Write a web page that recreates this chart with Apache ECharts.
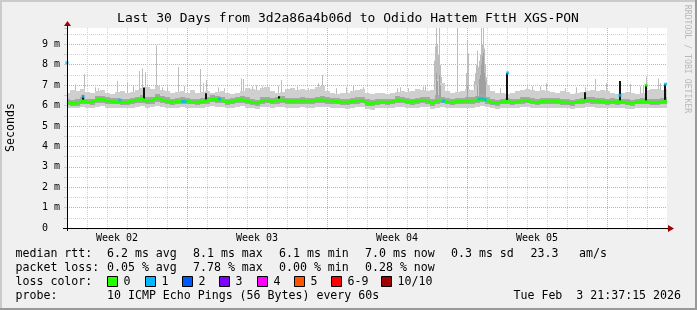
<!DOCTYPE html>
<html><head><meta charset="utf-8">
<script src="https://cdn.jsdelivr.net/npm/echarts@6/dist/echarts.min.js"></script>
<style>html,body{margin:0;padding:0;background:#f0f0f0}#c{width:697px;height:310px}</style>
</head><body><div id="c"></div>
<script>
// ---------------- data ----------------
const TITLE = 'Last 30 Days from 3d2a86a4b06d to Odido Hattem FttH XGS-PON';
const STEP_DAYS = 0.25;            // sample spacing of the arrays below (days)
const median = [
6.16,6.10,6.12,6.22,6.18,6.16,6.30,6.32,6.24,6.20,6.19,6.17,6.16,6.22,6.28,6.32,6.22,6.26,6.38,6.28,6.22,6.16,6.20,6.24,6.22,
6.18,6.16,6.20,6.24,6.32,6.28,6.26,6.16,6.20,6.27,6.30,6.22,6.16,6.12,6.24,6.26,6.20,6.26,6.28,6.22,6.20,6.22,6.24,6.22,
6.22,6.27,6.28,6.24,6.22,6.20,6.18,6.16,6.20,6.24,6.26,6.12,6.08,6.16,6.18,6.16,6.18,6.28,6.26,6.20,6.18,6.22,6.26,6.24,
6.10,6.24,6.26,6.18,6.16,6.20,6.22,6.22,6.22,6.28,6.32,6.24,6.16,6.12,6.18,6.20,6.16,6.18,6.24,6.26,6.18,6.16,6.20,6.22,
6.22,6.20,6.18,6.16,6.12,6.18,6.20,6.26,6.24,6.22,6.20,6.18,6.16,6.20,6.18,6.14,6.10,6.18,6.20,6.18,6.16,6.16,6.18,6.22];
const smokeLo = [
5.9,5.88,5.86,5.92,5.9,5.88,5.95,5.96,5.9,5.9,5.88,5.88,5.86,5.9,5.94,5.96,5.9,5.92,5.98,5.94,5.9,5.86,5.88,5.92,5.9,
5.88,5.86,5.9,5.92,5.96,5.94,5.92,5.86,5.88,5.94,5.96,5.9,5.86,5.84,5.92,5.94,5.88,5.92,5.94,5.9,5.88,5.9,5.92,5.9,
5.9,5.94,5.95,5.92,5.9,5.88,5.86,5.85,5.88,5.92,5.94,5.84,5.8,5.86,5.88,5.86,5.88,5.94,5.92,5.88,5.86,5.9,5.94,5.92,
5.82,5.9,5.94,5.88,5.86,5.88,5.9,5.9,5.9,5.94,5.96,5.92,5.86,5.84,5.88,5.9,5.86,5.88,5.92,5.94,5.88,5.86,5.88,5.9,
5.9,5.88,5.86,5.86,5.84,5.88,5.9,5.94,5.92,5.9,5.88,5.86,5.88,5.86,5.88,5.84,5.82,5.88,5.9,5.88,5.86,5.86,5.88,5.9];
const smokeHi = [
6.6,6.75,6.7,6.8,6.65,6.6,6.7,6.75,6.6,6.55,6.65,6.7,6.6,6.65,6.75,6.85,6.9,6.8,6.95,6.75,6.7,6.6,6.65,6.7,6.6,
6.75,6.6,6.65,6.7,6.6,6.65,6.7,6.6,6.55,6.6,6.7,6.85,6.8,6.75,6.85,6.9,6.7,6.6,6.65,6.8,6.85,6.75,6.8,6.75,
6.8,6.9,6.95,6.7,6.6,6.55,6.6,6.6,6.7,6.75,6.8,6.6,6.55,6.6,6.6,6.55,6.6,6.65,6.7,6.65,6.7,6.8,6.75,6.7,
6.75,7.3,7.1,6.7,6.6,6.65,6.7,6.8,6.75,7.0,7.4,7.0,6.7,6.6,6.6,6.55,6.6,6.7,6.75,6.8,6.75,6.7,6.75,6.7,
6.65,6.6,6.7,6.65,6.55,6.6,6.65,6.7,6.75,6.7,6.75,6.7,6.6,6.55,6.6,6.65,6.6,6.55,6.6,6.75,6.8,6.8,6.75,6.8];
const coreLo = [
6.04,6.0,6.0,6.08,6.06,6.04,6.12,6.14,6.1,6.08,6.06,6.05,6.04,6.08,6.12,6.14,6.08,6.1,6.16,6.12,6.08,6.04,6.06,6.1,6.08,
6.06,6.04,6.08,6.1,6.16,6.14,6.12,6.04,6.06,6.12,6.14,6.08,6.04,6.0,6.1,6.12,6.06,6.1,6.14,6.08,6.06,6.08,6.1,6.08,
6.08,6.12,6.14,6.1,6.08,6.06,6.04,6.02,6.06,6.1,6.12,6.0,5.96,6.04,6.06,6.04,6.06,6.14,6.12,6.06,6.04,6.08,6.12,6.1,
5.98,6.1,6.12,6.06,6.04,6.06,6.08,6.08,6.08,6.12,6.16,6.1,6.04,6.0,6.06,6.08,6.04,6.06,6.1,6.12,6.06,6.04,6.06,6.08,
6.08,6.06,6.04,6.04,6.0,6.06,6.08,6.12,6.1,6.08,6.06,6.04,6.06,6.04,6.06,6.02,5.98,6.06,6.08,6.06,6.04,6.04,6.06,6.08];
const coreHi = [
6.32,6.28,6.3,6.4,6.34,6.32,6.46,6.48,6.4,6.36,6.36,6.34,6.32,6.38,6.44,6.5,6.4,6.44,6.56,6.46,6.4,6.32,6.36,6.4,6.38,
6.34,6.32,6.36,6.42,6.5,6.46,6.42,6.32,6.36,6.44,6.48,6.4,6.32,6.28,6.4,6.42,6.36,6.42,6.46,6.38,6.36,6.38,6.42,6.38,
6.38,6.44,6.46,6.4,6.38,6.36,6.34,6.32,6.36,6.42,6.44,6.3,6.26,6.32,6.34,6.32,6.34,6.46,6.42,6.36,6.34,6.38,6.44,6.4,
6.3,6.5,6.44,6.36,6.32,6.36,6.38,6.4,6.4,6.48,6.56,6.42,6.32,6.28,6.34,6.36,6.32,6.34,6.4,6.44,6.36,6.32,6.36,6.38,
6.38,6.36,6.34,6.32,6.28,6.34,6.36,6.42,6.4,6.38,6.36,6.34,6.36,6.32,6.34,6.3,6.26,6.34,6.36,6.34,6.32,6.34,6.36,6.4];
// thin smoke spikes: [day, top ms]
const lightSpikes = [
[0.42,7.04],[0.89,7.53],[1.43,6.9],[1.55,6.85],[2.5,7.2],[3.0,7.14],[3.33,6.95],[3.62,7.69],[3.75,7.82],[3.92,7.63],
[4.47,8.96],[4.75,6.9],[5.0,6.9],[5.55,7.89],[5.85,6.95],
[6.67,7.79],[6.84,7.09],[6.95,7.25],[7.55,6.9],[7.85,6.85],[8.74,7.33],[8.8,7.3],[9.25,6.95],[9.45,7.0],[9.75,6.95],[9.85,6.9],
[10.59,6.96],[10.7,7.25],[11.5,6.92],[12.09,6.85],[12.55,7.09],[12.75,7.5],[13.45,6.85],[13.95,6.9],[14.34,7.0],[14.84,6.9],
[16.5,6.85],[16.65,6.9],[17.09,6.85],[17.84,6.92],[17.92,6.95],
[18.35,8.2],[18.4,8.9],[18.45,9.8],[18.5,9.0],[18.55,8.5],[18.6,9.8],[18.65,8.0],[18.7,7.4],[18.75,7.0],
[19.52,9.8],[19.95,7.6],[20.0,9.2],[20.07,8.55],
[20.35,7.2],[20.4,7.6],[20.45,8.0],[20.54,8.7],[20.55,7.9],[20.6,8.2],[20.65,8.5],[20.74,9.8],[20.75,9.0],[20.82,9.8],[20.85,8.8],[20.9,8.0],[20.95,7.4],
[21.65,6.85],[23.0,6.9],[23.25,6.95],[23.65,6.95],[23.97,7.09],[24.9,6.85],[25.45,6.9],[25.9,6.9],[26.4,7.3],[26.98,7.1],
[28.15,7.05],[28.65,6.95],[28.8,7.0],[28.95,7.42],[29.57,7.33],[29.65,7.1]];
const coreSpikes = [
[18.45,7.6],[18.5,7.2],[18.6,7.5],[18.65,7.0],[20.0,7.0],
[20.5,7.0],[20.6,7.3],[20.65,7.5],[20.7,8.0],[20.75,8.4],[20.8,8.6],[20.85,7.6],[20.9,7.2]];
// median jumps (black): [day, top ms]
const medianSpikes = [
[0.0,8.1],[0.8,6.5],[3.885,6.88],[6.95,6.6],[7.64,6.36],[10.6,6.45],[22.03,7.6],[25.9,6.65],[27.65,7.2],[28.95,7.0],[29.93,7.05]];
// loss-coloured median samples: [day, ms, loss class]
const lossDots = [
[0.0,8.1,1],[0.8,6.45,1],[2.65,6.27,1],[5.78,6.2,1],[5.9,6.2,1],[7.64,6.32,1],[18.83,6.22,1],
[20.6,6.33,1],[20.75,6.34,1],[20.9,6.3,1],[22.03,7.6,1],[27.65,6.5,1],[28.95,7.0,0],[29.93,7.05,1]];
const weekCenters = [2.5, 9.5, 16.5, 23.5];
const weekLabels = ['Week 02','Week 03','Week 04','Week 05'];
const lossColors = ['#26ff00','#00b8ff','#0059ff','#7e00ff','#ff00ff','#ff5500','#ff0000','#a00000'];
const lossLabels = ['0','1','2','3','4','5','6-9','10/10'];
const rttStats = ['6.2 ms avg','8.1 ms max','6.1 ms min','7.0 ms now','0.3 ms sd','23.3','am/s'];
const lossStats = ['0.05 % avg','7.78 % max','0.00 % min','0.28 % now'];
const probeText = '10 ICMP Echo Pings (56 Bytes) every 60s';
const dateText = 'Tue Feb  3 21:37:15 2026';

// ---------------- chart ----------------
const MONO = 'DejaVu Sans Mono';
const days = median.map((_, i) => i * STEP_DAYS);
const pair = arr => arr.map((v, i) => [days[i], v]);
const RED = '#eaa0a0', GRAY = '#d2d2d2';

function spikes(data, color, width, base, z) {
  return {
    type: 'custom', silent: true, z, data, encode: {x: 0, y: 1}, clip: true,
    renderItem(params, api) {
      const t = api.coord([api.value(0), api.value(1)]);
      const b = api.coord([api.value(0), base]);
      return {type: 'rect', shape: {x: Math.floor(t[0]) - (width > 1 ? 1 : 0), y: t[1], width, height: b[1] - t[1]},
              style: {fill: color}};
    }
  };
}
function band(lo, hi, color, z) {
  const data = lo.map((v, i) => [days[i], v, hi[i]]);
  return {
    type: 'custom', silent: true, z, data, encode: {x: 0, y: [1, 2]}, clip: true,
    renderItem(params, api) {
      const d = api.value(0);
      const l = api.coord([d - STEP_DAYS / 2, api.value(1)]);
      const h = api.coord([d + STEP_DAYS / 2, api.value(2)]);
      const x0 = Math.round(l[0]), x1 = Math.round(h[0]);
      const y0 = Math.round(h[1]), y1 = Math.round(l[1]);
      return {type: 'rect', shape: {x: x0, y: y0, width: x1 - x0, height: y1 - y0}, style: {fill: color}};
    }
  };
}

const xCol = []; for (let i = 0; i < 7; i++) xCol.push(i === 6 ? RED : GRAY);

const gfx = [];
const T = (text, x, y, extra) => gfx.push(Object.assign({type: 'text', x, y, silent: true,
  style: Object.assign({text, fontFamily: MONO, fontSize: 11.6, fill: '#000', align: 'left', verticalAlign: 'middle'}, extra || {})}));
// frame
gfx.push({type: 'rect', shape: {x: 0, y: 0, width: 697, height: 2}, style: {fill: '#cbcbcb'}});
gfx.push({type: 'rect', shape: {x: 0, y: 0, width: 2, height: 310}, style: {fill: '#cbcbcb'}});
gfx.push({type: 'rect', shape: {x: 695, y: 0, width: 2, height: 310}, style: {fill: '#999'}});
gfx.push({type: 'rect', shape: {x: 0, y: 308, width: 697, height: 2}, style: {fill: '#999'}});
// title & side texts
T(TITLE, 348, 18.5, {fontSize: 13, align: 'center'});
gfx.push({type: 'text', x: 11, y: 127.5, rotation: Math.PI / 2, silent: true,
  style: {text: 'Seconds', fontFamily: MONO, fontSize: 11.6, fill: '#000', align: 'center', verticalAlign: 'middle'}});
gfx.push({type: 'text', x: 687, y: 59, rotation: -Math.PI / 2, silent: true,
  style: {text: 'RRDTOOL / TOBI OETIKER', fontFamily: MONO, fontSize: 8.2, fill: '#b8b8b8', align: 'center', verticalAlign: 'middle'}});
// axis extensions and arrows
gfx.push({type: 'line', shape: {x1: 67.5, y1: 231, x2: 67.5, y2: 25}, style: {stroke: '#000', lineWidth: 1}, z: 50});
gfx.push({type: 'line', shape: {x1: 63, y1: 228.5, x2: 669, y2: 228.5}, style: {stroke: '#000', lineWidth: 1}, z: 50});
gfx.push({type: 'polygon', shape: {points: [[64, 26], [71, 26], [67.5, 21]]}, style: {fill: '#a00000'}, z: 51});
gfx.push({type: 'polygon', shape: {points: [[668, 225], [668, 232], [674, 228.5]]}, style: {fill: '#a00000'}, z: 51});
// legend rows
const rttX = [107, 193, 279, 365, 451, 530.5, 579];
T('median rtt:', 15.5, 254.3); rttStats.forEach((s, i) => T(s, rttX[i], 254.3));
T('packet loss:', 15.5, 268.3); lossStats.forEach((s, i) => T(s, rttX[i], 268.3));
T('loss color:', 15.5, 282);
const swX = [108, 146, 183, 220, 258, 295, 332, 382];
lossColors.forEach((c, i) => {
  gfx.push({type: 'rect', shape: {x: swX[i] - 0.5, y: 276.5, width: 10, height: 10}, style: {fill: c, stroke: '#000', lineWidth: 1}});
  T(lossLabels[i], swX[i] + 15.5, 282);
});
T('probe:', 15.5, 296); T(probeText, 107, 296); T(dateText, 681, 296, {align: 'right'});

const chart = echarts.init(document.getElementById('c'), null, {renderer: 'canvas'});
chart.setOption({
  animation: false,
  backgroundColor: '#f0f0f0',
  grid: {left: 67, right: 30, top: 28, bottom: 82, show: true, backgroundColor: '#fff', borderWidth: 0},
  xAxis: [
    {type: 'value', min: 0, max: 30, interval: 1,
     axisLine: {show: false}, axisTick: {show: true, length: 2, lineStyle: {color: '#bbb'}},
     axisLabel: {show: false},
     splitLine: {show: true, showMaxLine: false, lineStyle: {color: xCol, type: [1, 1], width: 1}}},
    {type: 'value', min: 0, max: 30, interval: 0.5, position: 'bottom',
     axisLine: {show: false}, axisTick: {show: false}, splitLine: {show: false},
     axisLabel: {show: true, margin: 5, fontFamily: MONO, fontSize: 10, color: '#000',
       showMinLabel: false, showMaxLabel: false,
       formatter: v => { const k = weekCenters.indexOf(v); return k >= 0 ? weekLabels[k] : ''; }}}
  ],
  yAxis: {type: 'value', min: 0, max: 9.8, interval: 0.5,
    axisLine: {show: false}, axisTick: {show: true, length: 3, lineStyle: {color: '#ccc'}},
    axisLabel: {margin: 7, fontFamily: MONO, fontSize: 10, color: '#000',
      formatter: v => v === 0 ? '0  ' : (Number.isInteger(v) ? v + ' m' : '')},
    splitLine: {show: true, showMaxLine: false, lineStyle: {color: [RED, GRAY], type: [1, 1], width: 1}}},
  series: [
    spikes(lightSpikes, '#bdbdbd', 1, 6.3, 2),
    band(smokeLo, smokeHi, '#cfcfcf', 2),
    spikes(coreSpikes, '#a0a0a0', 1, 6.3, 2),
    band(coreLo, coreHi, '#a6a6a6', 2),
    spikes(medianSpikes, '#111', 2, 6.22, 3),
    {type: 'line', data: pair(median), symbol: 'none', silent: true, z: 4,
     lineStyle: {color: '#26ff00', width: 3}},
    {type: 'scatter', data: lossDots, symbol: 'rect', symbolSize: 3, silent: true, z: 5,
     itemStyle: {color: p => lossColors[p.data[2]]}}
  ],
  graphic: gfx
});
</script></body></html>
